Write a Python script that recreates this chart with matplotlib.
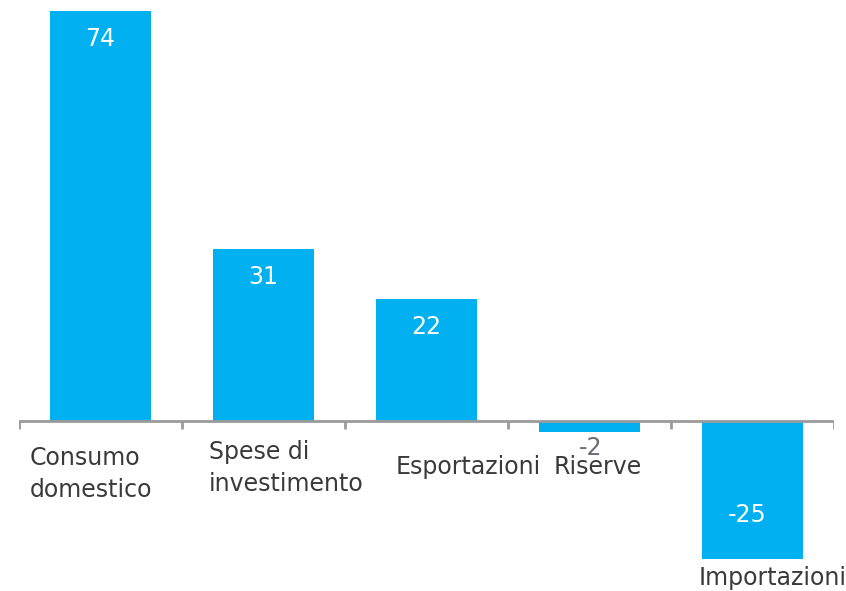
import matplotlib
matplotlib.use("Agg")
import matplotlib.pyplot as plt

categories = ["Consumo\ndomestico", "Spese di\ninvestimento", "Esportazioni", "Riserve", "Importazioni"]
values = [74, 31, 22, -2, -25]

# layout offsets (pixels) for category labels: (dx from bar centre, dy from anchor, anchor at value?, va)
cat_offsets = [(-71, -25, False, 'top'), (-55, -19, False, 'top'), (-31, -46, False, 'center'),
               (-36, -46, False, 'center'), (-54, -7, True, 'top')]

W, H = 846, 591
fig = plt.figure(figsize=(W / 100, H / 100), dpi=100)
ax = fig.add_axes([19 / W, (H - 559) / H, 815 / W, 548 / H])

x = list(range(len(values)))
ax.bar(x, values, width=0.625, color="#00B0F0", zorder=2)
ax.set_xlim(-0.5, len(values) - 0.5)
ax.set_ylim(-25, 74)

for s in ax.spines.values():
    s.set_visible(False)
ax.set_yticks([])
ax.set_xticks([])
ax.axhline(0, color="#9a9a9a", lw=2, zorder=3)
for b in [i - 0.5 for i in range(len(values) + 1)]:
    ax.plot([b, b], [0, -8 / 5.535], color="#9a9a9a", lw=2, zorder=3, solid_capstyle="butt")

fs = 17
for i, (lab, v) in enumerate(zip(categories, values)):
    dx, dy, at_val, va = cat_offsets[i]
    ay = v if at_val else 0
    ax.annotate(lab, xy=(i, ay), xytext=(dx, dy), textcoords="offset pixels",
                ha="left", va=va, fontsize=fs, color="#3a3a3a", linespacing=1.45,
                annotation_clip=False)

for i, v in enumerate(values):
    if v >= 10:
        ax.annotate(f"{v}", xy=(i, v), xytext=(0, -28), textcoords="offset pixels",
                    ha="center", va="center", fontsize=fs, color="white")
    elif v <= -10:
        ax.annotate(f"{v}", xy=(i, v), xytext=(-5, 44), textcoords="offset pixels",
                    ha="center", va="center", fontsize=fs, color="white")
    else:
        ax.annotate(f"{v}", xy=(i, 0), xytext=(1, -27), textcoords="offset pixels",
                    ha="center", va="center", fontsize=fs, color="#6b6b78")

fig.savefig("out.png", dpi=100)
